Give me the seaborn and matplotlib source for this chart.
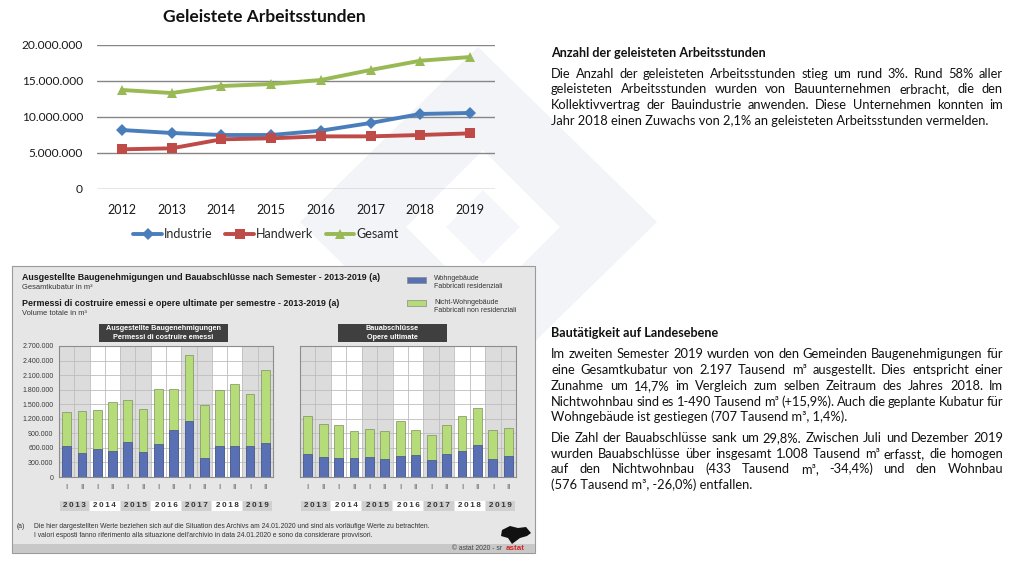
import numpy as np
import pandas as pd
import matplotlib
matplotlib.use("Agg")
import matplotlib.pyplot as plt
from matplotlib.patches import Rectangle, Polygon
from matplotlib.lines import Line2D
from matplotlib.ticker import FuncFormatter
import matplotlib.transforms as mtransforms
import seaborn as sns

# --- Daten: geleistete Arbeitsstunden ---
years = ["2012", "2013", "2014", "2015", "2016", "2017", "2018", "2019"]
industrie = [8190000, 7780000, 7500000, 7500000, 8100000, 9170000, 10420000, 10560000]
handwerk = [5510000, 5650000, 6900000, 7040000, 7310000, 7310000, 7500000, 7730000]
gesamt = [13750000, 13330000, 14300000, 14580000, 15140000, 16530000, 17820000, 18330000]

# --- Daten: Baugenehmigungen / Bauabschlüsse (Tausend m³) ---
bau_years = ["2013", "2014", "2015", "2016", "2017", "2018", "2019"]
semester = ["I", "II"] * 7
genehm_wohn = [640, 503, 585, 544, 730, 523, 682, 978, 1164, 393, 634, 634, 647, 707]
genehm_gesamt = [1350, 1364, 1384, 1536, 1577, 1398, 1804, 1804, 2514, 1481, 1791, 1915, 1715, 2197]
abschl_wohn = [482, 420, 393, 400, 420, 365, 434, 448, 351, 482, 530, 654, 379, 434]
abschl_gesamt = [1253, 1102, 1081, 957, 999, 957, 1164, 978, 875, 1081, 1260, 1432, 978, 1008]

W, H = 1016, 566
sns.set_theme(style="white")
plt.rcParams['font.family'] = ['Lato', 'DejaVu Sans']

fig = plt.figure(figsize=(W / 100, H / 100), dpi=100)


def add_ax(x0, y0, x1, y1):
    return fig.add_axes([x0 / W, 1 - y1 / H, (x1 - x0) / W, (y1 - y0) / H])


def dotted(v, pos=None):
    return f"{int(round(v)):,}".replace(",", ".")


# Hintergrund-Achse in Pixelkoordinaten
bg = fig.add_axes([0, 0, 1, 1], zorder=-5)
bg.set_xlim(0, W)
bg.set_ylim(H, 0)
bg.axis("off")

# blasses Wasserzeichen
bg.add_patch(Polygon([(478, 47), (657, 222), (478, 397), (300, 222)], closed=True,
                     facecolor="#F2F4F8", edgecolor="none", zorder=0))
bg.add_patch(Polygon([(483, 150), (560, 227), (483, 304), (406, 227)], closed=True,
                     facecolor="white", edgecolor="none", zorder=0))
bg.add_patch(Polygon([(483, 190), (520, 227), (483, 264), (446, 227)], closed=True,
                     facecolor="#F4F6F9", edgecolor="none", zorder=0))

# --- Liniendiagramm ---
ax = add_ax(97, 45, 495, 189)
ax.set_facecolor("none")
pos = np.arange(len(years))
series = [("Industrie", industrie, "#4A7EBB", "D", 6),
          ("Handwerk", handwerk, "#BE4B48", "s", 7),
          ("Gesamt", gesamt, "#98B954", "^", 7.5)]
for name, vals, col, mk, ms in series:
    sns.lineplot(x=pos, y=vals, ax=ax, color=col, marker=mk, markersize=ms,
                 markeredgewidth=0, linewidth=2.8, zorder=3)
ax.set_xlim(-0.5, 7.5)
ax.set_ylim(0, 20000000)
ax.set_yticks(np.arange(0, 20000001, 5000000))
ax.yaxis.set_major_formatter(FuncFormatter(dotted))
ax.set_xticks(pos)
ax.set_xticklabels(years)
ax.grid(axis="y", color="#868686", linewidth=1)
ax.grid(axis="x", visible=False)
sns.despine(ax=ax, left=True, bottom=True)
ax.tick_params(length=0, labelsize=8.6, colors="#1a1a1a", pad=10)
ax.tick_params(axis="x", labelsize=9, pad=11)
ax.set_xlabel("")
ax.set_ylabel("")
handles = [Line2D([], [], color=c, marker=m, markersize=s, markeredgewidth=0, linewidth=2.8)
           for _, _, c, m, s in series]
fig.legend(handles, [s[0] for s in series], loc="center", bbox_to_anchor=(266 / W, 1 - 234 / H),
           ncol=3, frameon=False, fontsize=9, handlelength=2.3, handletextpad=0.15,
           columnspacing=1.0)
bg.text(264, 17, "Geleistete Arbeitsstunden", ha="center", va="center",
        fontsize=12.5, fontweight="bold", color="#111111")

# --- Textblöcke rechts ---
renderer = fig.canvas.get_renderer()


def paragraph(lines, x0, x1, y0, dy, size=9.3):
    for i, line in enumerate(lines):
        y = y0 + i * dy + 4
        if i == len(lines) - 1:
            bg.text(x0, y, line, va="baseline", ha="left", fontsize=size, color="#111111")
            continue
        words = line.split(" ")
        texts = [bg.text(x0, y, w, va="baseline", ha="left", fontsize=size, color="#111111")
                 for w in words]
        widths = [t.get_window_extent(renderer).width for t in texts]
        gap = (x1 - x0 - sum(widths)) / (len(words) - 1)
        x = x0
        for t, w in zip(texts, widths):
            t.set_x(x)
            x += w + gap


bg.text(551, 57, "Anzahl der geleisteten Arbeitsstunden", va="baseline", fontsize=9.1,
        fontweight="bold", color="#111111")
paragraph(["Die Anzahl der geleisteten Arbeitsstunden stieg um rund 3%. Rund 58% aller",
           "geleisteten Arbeitsstunden wurden von Bauunternehmen erbracht, die den",
           "Kollektivvertrag der Bauindustrie anwenden. Diese Unternehmen konnten im",
           "Jahr 2018 einen Zuwachs von 2,1% an geleisteten Arbeitsstunden vermelden."],
          551, 1003, 73.5, 15.8)

bg.text(551, 337, "Bautätigkeit auf Landesebene", va="baseline", fontsize=9.1,
        fontweight="bold", color="#111111")
paragraph(["Im zweiten Semester 2019 wurden von den Gemeinden Baugenehmigungen für",
           "eine Gesamtkubatur von 2.197 Tausend m³ ausgestellt. Dies entspricht einer",
           "Zunahme um 14,7% im Vergleich zum selben Zeitraum des Jahres 2018. Im",
           "Nichtwohnbau sind es 1-490 Tausend m³ (+15,9%). Auch die geplante Kubatur für",
           "Wohngebäude ist gestiegen (707 Tausend m³, 1,4%)."],
          551, 1003, 354.5, 15.7)
paragraph(["Die Zahl der Bauabschlüsse sank um 29,8%. Zwischen Juli und Dezember 2019",
           "wurden Bauabschlüsse über insgesamt 1.008 Tausend m³ erfasst, die homogen",
           "auf den Nichtwohnbau (433 Tausend m³, -34,4%) und den Wohnbau",
           "(576 Tausend m³, -26,0%) entfallen."],
          551, 1003, 438, 15.7)

# --- astat-Tafel ---
arial = ['Liberation Sans', 'DejaVu Sans']
bg.add_patch(Rectangle((12, 266), 523, 287, facecolor="#E6E6E6", edgecolor="#9A9A9A",
                       linewidth=0.8, zorder=1))
bg.add_patch(Rectangle((12.5, 544), 522, 8.5, facecolor="#C8C8C8", edgecolor="none", zorder=1))
bg.text(22, 278, "Ausgestellte Baugenehmigungen und Bauabschlüsse nach Semester - 2013-2019 (a)",
        family=arial, fontsize=6.4, fontweight="bold", color="#1a1a1a", va="center", zorder=2)
bg.text(22, 287.5, "Gesamtkubatur in m³", family=arial, fontsize=5.4, color="#333333",
        va="center", zorder=2)
bg.text(22, 304, "Permessi di costruire emessi e opere ultimate per semestre - 2013-2019 (a)",
        family=arial, fontsize=6.4, fontweight="bold", color="#1a1a1a", va="center", zorder=2)
bg.text(22, 313.5, "Volume totale in m³", family=arial, fontsize=5.4, color="#333333",
        va="center", zorder=2)

blue, green = "#5A70B5", "#B6DC7A"
for yy, col, l1, l2 in [(277, blue, "Wohngebäude", "Fabbricati residenziali"),
                        (300, green, "Nicht-Wohngebäude", "Fabbricati non residenziali")]:
    bg.add_patch(Rectangle((407, yy), 19, 6, facecolor=col, edgecolor="#8a8a8a",
                           linewidth=0.5, zorder=2))
    bg.text(434, yy + 2, l1, family=arial, fontsize=5, color="#333333", va="center", zorder=2)
    bg.text(434, yy + 10, l2, family=arial, fontsize=5, color="#333333", va="center", zorder=2)

for x0, x1, l1, l2 in [(99, 228, "Ausgestellte Baugenehmigungen", "Permessi di costruire emessi"),
                       (338, 447, "Bauabschlüsse", "Opere ultimate")]:
    bg.add_patch(Rectangle((x0, 324), x1 - x0, 18, facecolor="#3F3F3F", edgecolor="none", zorder=2))
    bg.text((x0 + x1) / 2, 329, l1, family=arial, fontsize=5.2, fontweight="bold",
            color="white", ha="center", va="center", zorder=3)
    bg.text((x0 + x1) / 2, 337.5, l2, family=arial, fontsize=5.2, fontweight="bold",
            color="white", ha="center", va="center", zorder=3)


def bar_panel(ax, wohn, total, show_y):
    idx = list(range(len(total)))
    for j in range(len(bau_years)):
        ax.axvspan(2 * j - 0.5, 2 * j + 1.5, color="#DCDCDC" if j % 2 == 0 else "white",
                   zorder=0, linewidth=0)
    sns.barplot(x=idx, y=[v * 1000 for v in total], ax=ax, color=green, saturation=1,
                width=0.57, edgecolor="#7E8F62", linewidth=0.5, zorder=3)
    sns.barplot(x=idx, y=[v * 1000 for v in wohn], ax=ax, color=blue, saturation=1,
                width=0.57, edgecolor="#44528A", linewidth=0.5, zorder=4)
    ax.set_xlim(-0.5, 13.5)
    ax.set_ylim(0, 2700000)
    ax.set_yticks(np.arange(0, 2700001, 300000))
    ax.set_xticks(idx)
    ax.set_xticklabels(semester)
    ax.set_xticks(np.arange(-0.5, 14, 1), minor=True)
    ax.grid(axis="y", which="major", color="#BDBDBD", linewidth=0.6, zorder=1)
    ax.grid(axis="x", which="minor", color="#BDBDBD", linewidth=0.6, zorder=1)
    ax.grid(axis="x", which="major", visible=False)
    ax.set_axisbelow(True)
    for sp in ax.spines.values():
        sp.set_color("#8C8C8C")
        sp.set_linewidth(0.8)
        sp.set_visible(True)
    ax.yaxis.set_major_formatter(FuncFormatter(dotted))
    ax.tick_params(axis="both", which="both", length=0, labelsize=5, colors="#3a3a3a")
    ax.tick_params(axis="x", labelsize=5.6, pad=5, colors="#555555")
    ax.tick_params(axis="y", pad=4)
    for lab in ax.get_xticklabels() + ax.get_yticklabels():
        lab.set_family(arial)
    if not show_y:
        ax.set_yticklabels([])
    ax.set_xlabel("")
    ax.set_ylabel("")
    tr = mtransforms.blended_transform_factory(ax.transData, ax.transAxes)
    for j, yr in enumerate(bau_years):
        ax.add_patch(Rectangle((2 * j - 0.5 + 0.04, -0.257), 1.92, 0.076, transform=tr,
                               facecolor="#D0D0D0" if j % 2 == 0 else "white",
                               edgecolor="none", clip_on=False))
        ax.text(2 * j + 0.5, -0.219, "\u2009".join(yr), transform=tr, ha="center", va="center",
                family=arial, fontsize=5.8, fontweight="bold", color="#333333")


ax_l = add_ax(59, 346, 273, 477)
bar_panel(ax_l, genehm_wohn, genehm_gesamt, True)
ax_r = add_ax(300, 346, 516, 477)
bar_panel(ax_r, abschl_wohn, abschl_gesamt, False)

bg.text(17, 526, "(a)", family=arial, fontsize=4.9, color="#333333", va="center", zorder=2)
bg.text(34, 526, "Die hier dargestellten Werte beziehen sich auf die Situation des Archivs am "
        "24.01.2020 und sind als vorläufige Werte zu betrachten.",
        family=arial, fontsize=4.9, color="#333333", va="center", zorder=2)
bg.text(34, 535.5, "I valori esposti fanno riferimento alla situazione dell'archivio in data "
        "24.01.2020 e sono da considerare provvisori.",
        family=arial, fontsize=4.9, color="#333333", va="center", zorder=2)
bg.text(502, 548.5, "© astat 2020 - sr", family=arial, fontsize=4.9, color="#444444",
        ha="right", va="center", zorder=2)
bg.text(506, 548.5, "astat", family=arial, fontsize=5.8, fontweight="bold", color="#D42A2A",
        ha="left", va="center", zorder=2)
bg.add_patch(Polygon([(502, 530), (510, 526), (518, 528), (526, 527), (531, 533), (527, 536),
                      (520, 538), (512, 544), (508, 538), (501, 536)], closed=True,
                     facecolor="#111111", edgecolor="none", zorder=2))

fig.savefig("out.png", dpi=100)
